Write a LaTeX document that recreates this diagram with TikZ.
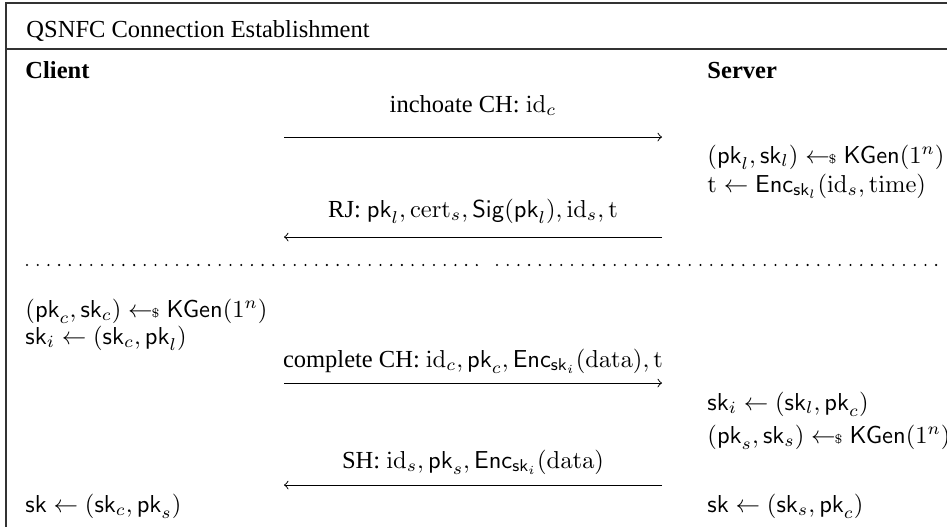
\documentclass[tikz,border=0pt]{standalone}
\usepackage[no-math]{fontspec}
\setmainfont{Liberation Serif}
\newcommand{\smpl}{\mathrel{\leftarrow\!\!{\scriptscriptstyle\$}}}
\begin{document}
\begin{tikzpicture}[x=0.408pt, y=-0.408pt,
  txt/.style={inner sep=0pt, anchor=base west},
  lbl/.style={inner sep=0pt, anchor=base},
  msg/.style={->, line width=0.4pt},
  frameline/.style={line width=0.5pt, draw=black!80},
  dotrow/.style={line width=0.95pt, line cap=round, dash pattern=on 0pt off 4.37pt}]
\useasboundingbox (0,0) rectangle (947,527);
% frame
\draw[frameline] (947,3) -- (6,3) -- (6,527);
\draw[frameline] (6,49) -- (947,49);
% headings
\node[txt] (title) at (26,37) {QSNFC Connection Establishment};
\node[txt,font=\bfseries] (client) at (25,78) {Client};
\node[txt,font=\bfseries] (server) at (707,78) {Server};
% message 1
\coordinate (m1a) at (284,137);
\coordinate (m1b) at (662,137);
\draw[msg] (m1a) -- (m1b);
\node[lbl] (m1l) at (473,112) {inchoate CH: $\mathrm{id}_c$};
% server step 1
\node[txt] (s1) at (707,163) {$(\mathsf{pk}_l, \mathsf{sk}_l) \smpl \mathsf{KGen}(1^n)$};
\node[txt] (s2) at (707,192) {$\mathrm{t} \leftarrow \mathsf{Enc}_{\mathsf{sk}_l}(\mathrm{id}_s, \mathrm{time})$};
% message 2
\coordinate (m2a) at (662,237);
\coordinate (m2b) at (284,237);
\draw[msg] (m2a) -- (m2b);
\node[lbl] (m2l) at (473,217) {RJ: $\mathsf{pk}_l, \mathrm{cert}_s, \mathsf{Sig}(\mathsf{pk}_l), \mathrm{id}_s, \mathrm{t}$};
% separator
\coordinate (d1a) at (27,265);
\coordinate (d1b) at (479,265);
\coordinate (d2a) at (497,265);
\coordinate (d2b) at (943,265);
\draw[dotrow] (d1a) -- (d1b);
\draw[dotrow] (d2a) -- (d2b);
% client step
\node[txt] (c1) at (25,317) {$(\mathsf{pk}_c, \mathsf{sk}_c) \smpl \mathsf{KGen}(1^n)$};
\node[txt] (c2) at (25,344) {$\mathsf{sk}_i \leftarrow (\mathsf{sk}_c, \mathsf{pk}_l)$};
% message 3
\coordinate (m3a) at (284,383);
\coordinate (m3b) at (662,383);
\draw[msg] (m3a) -- (m3b);
\node[lbl] (m3l) at (473,367) {complete CH: $\mathrm{id}_c, \mathsf{pk}_c, \mathsf{Enc}_{\mathsf{sk}_i}(\mathrm{data}), \mathrm{t}$};
% server step 2
\node[txt] (s3) at (707,410) {$\mathsf{sk}_i \leftarrow (\mathsf{sk}_l, \mathsf{pk}_c)$};
\node[txt] (s4) at (707,443) {$(\mathsf{pk}_s, \mathsf{sk}_s) \smpl \mathsf{KGen}(1^n)$};
% message 4
\coordinate (m4a) at (662,485);
\coordinate (m4b) at (284,485);
\draw[msg] (m4a) -- (m4b);
\node[lbl] (m4l) at (473,468) {SH: $\mathrm{id}_s, \mathsf{pk}_s, \mathsf{Enc}_{\mathsf{sk}_i}(\mathrm{data})$};
% final keys
\node[txt] (c3) at (25,512) {$\mathsf{sk} \leftarrow (\mathsf{sk}_c, \mathsf{pk}_s)$};
\node[txt] (s5) at (707,512) {$\mathsf{sk} \leftarrow (\mathsf{sk}_s, \mathsf{pk}_c)$};
\end{tikzpicture}
\end{document}
